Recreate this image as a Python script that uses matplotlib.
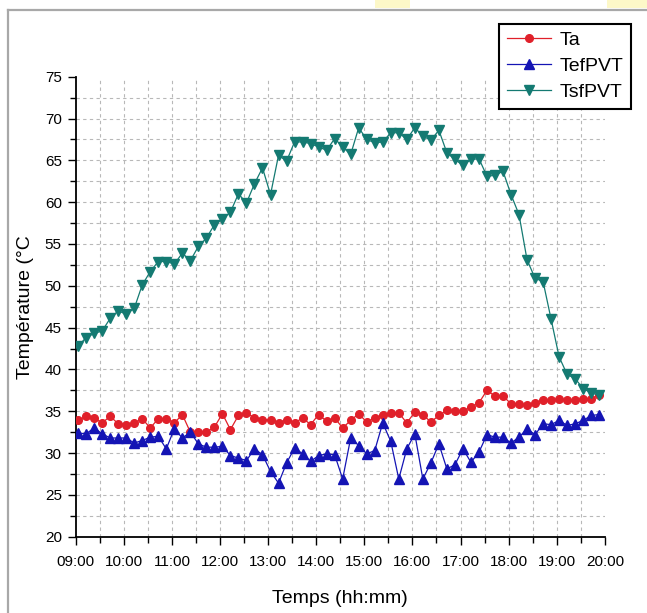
import matplotlib
matplotlib.use("Agg")
import matplotlib.pyplot as plt
import matplotlib.dates as mdates
from matplotlib.lines import Line2D
from matplotlib.patches import Rectangle
import pandas as pd

plt.rcParams['font.family'] = ['Liberation Sans', 'DejaVu Sans']

# one reading every 10 min, 09:03 -> 19:53
temps = pd.date_range('2000-01-01 09:03', periods=66, freq='10min')

ta = [33.9, 34.4, 34.2, 33.6, 34.4, 33.5, 33.4, 33.6, 34.1, 33.0, 34.1, 34.1,
      33.6, 34.6, 32.5, 32.5, 32.5, 33.1, 34.7, 32.8, 34.5, 34.8, 34.2,
      34.0, 34.0, 33.6, 34.0, 33.6, 34.2, 33.4, 34.6, 33.8, 34.2, 33.0, 33.9,
      34.7, 33.7, 34.2, 34.5, 34.8, 34.8, 33.6, 34.9, 34.6, 33.7, 34.5, 35.1,
      35.0, 35.0, 35.5, 36.0, 37.5, 36.8, 36.8, 35.9, 35.9, 35.7, 36.0, 36.3,
      36.3, 36.5, 36.3, 36.3, 36.5, 36.5, 36.9]

tef_pvt = [32.4, 32.3, 33.0, 32.3, 31.8, 31.8, 31.8, 31.2, 31.5, 31.9, 32.0,
           30.5, 32.9, 31.8, 32.5, 31.1, 30.7, 30.7, 30.8, 29.7, 29.4, 29.1, 30.5,
           29.8, 27.8, 26.4, 28.8, 30.6, 29.9, 29.0, 29.7, 29.9, 29.8, 26.9, 31.8,
           30.9, 29.9, 30.3, 33.6, 31.4, 26.9, 30.5, 32.3, 26.9, 28.8, 31.1, 28.1,
           28.6, 30.5, 28.9, 30.1, 32.2, 31.9, 31.9, 31.2, 31.9, 32.9, 32.2, 33.5,
           33.4, 33.9, 33.3, 33.5, 33.9, 34.5, 34.6]

tsf_pvt = [42.8, 43.8, 44.3, 44.6, 46.1, 47.0, 46.6, 47.3,
           50.1, 51.7, 52.9, 52.9, 52.6, 53.9, 53.0, 54.7, 55.7, 57.3, 58.0, 58.8,
           61.0, 59.9, 62.2,
           64.1, 60.9, 65.6, 64.9, 67.2, 67.2, 67.0, 66.6, 66.2, 67.6, 66.6, 65.7,
           68.9, 67.5, 67.1, 67.2, 68.3, 68.3, 67.5, 68.9, 67.9, 67.4, 68.6, 65.9,
           65.1, 64.4, 65.1, 65.2, 63.1, 63.2, 63.7, 60.9, 58.5, 53.1, 50.9, 50.5,
           46.0, 41.5, 39.4, 38.9, 37.7, 37.2, 36.9]

fig = plt.figure(figsize=(6.47, 6.13), dpi=100)
ax = fig.add_axes([0.117, 0.1245, 0.8178, 0.7504])

ax.plot(temps, ta, color='#e0202a', marker='o', ms=5.5, lw=0.9, label='Ta', zorder=3)
ax.plot(temps, tef_pvt, color='#1414b4', marker='^', ms=6.5, lw=0.9, label='TefPVT', zorder=4)
ax.plot(temps, tsf_pvt, color='#147a72', marker='v', ms=7, lw=0.9, label='TsfPVT', zorder=3)

ax.set_xlim(pd.Timestamp('2000-01-01 09:00'), pd.Timestamp('2000-01-01 20:00'))
ax.set_ylim(20, 75)
ax.set_yticks(range(20, 76, 5))
ax.set_yticks([22.5 + 5 * k for k in range(11)], minor=True)
ax.xaxis.set_major_locator(mdates.HourLocator())
ax.xaxis.set_minor_locator(mdates.MinuteLocator(byminute=30))
ax.xaxis.set_major_formatter(mdates.DateFormatter('%H:%M'))

ax.tick_params(which='major', direction='out', length=6, width=1, labelsize=11, pad=4)
ax.tick_params(which='minor', direction='out', length=4, width=1)
ax.tick_params(axis='x', which='major', pad=7)

ax.grid(True, which='both', color='#b8b8b8', ls=(0, (3, 3)), lw=0.8)
for g in (ax.yaxis.get_gridlines()[-1], ax.xaxis.get_gridlines()[-1], ax.xaxis.get_gridlines()[0]):
    g.set_visible(False)

for s in ('top', 'right'):
    ax.spines[s].set_visible(False)
for s in ('left', 'bottom'):
    ax.spines[s].set_linewidth(1.3)

ax.set_xlabel('Temps (hh:mm)', fontsize=14, labelpad=15)
ax.set_ylabel('Température (°C', fontsize=14, labelpad=8)

leg = fig.legend(loc='upper right', bbox_to_anchor=(0.975, 0.961), borderaxespad=0,
                 fontsize=14, fancybox=False, framealpha=1, edgecolor='black',
                 handlelength=2.3, handletextpad=0.4, labelspacing=0.42,
                 borderpad=0.4)
leg.get_frame().set_linewidth(1.5)

# screenshot frame
W, H = 647, 613
fig.add_artist(Line2D([8 / W, 8 / W], [0, 1 - 10 / H], color='#a8a8a8', lw=1.6))
fig.add_artist(Line2D([8 / W, 1], [1 - 10 / H, 1 - 10 / H], color='#a8a8a8', lw=1.6))
fig.add_artist(Rectangle((375 / W, 1 - 8 / H), 35 / W, 8 / H, color='#fdf8c8', lw=0))
fig.add_artist(Rectangle((607 / W, 1 - 8 / H), 40 / W, 8 / H, color='#fdf8c8', lw=0))

fig.savefig('out.png', dpi=100)
